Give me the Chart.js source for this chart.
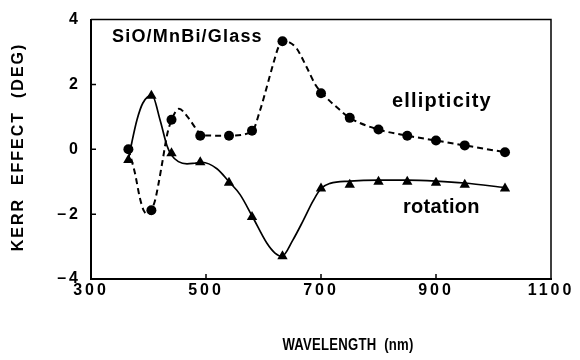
<!DOCTYPE html>
<html>
<head>
<meta charset="utf-8">
<script src="https://cdn.jsdelivr.net/npm/chart.js@4"></script>
<style>
  html, body { margin: 0; padding: 0; background: #fff; }
  #wrap { width: 580px; height: 360px; }
</style>
</head>
<body>
<div id="wrap"><canvas id="kerr"></canvas></div>
<script>
// measured points (nm, deg)
const wavelength = [365, 405, 440, 490, 540, 580, 633, 700, 750, 800, 850, 900, 950, 1020];
const ellipticity = [0, -1.88, 0.91, 0.42, 0.42, 0.57, 3.33, 1.73, 0.97, 0.61, 0.42, 0.27, 0.12, -0.09];
const rotation = [-0.33, 1.65, -0.12, -0.4, -1.03, -2.09, -3.3, -1.21, -1.09, -1.0, -1.0, -1.03, -1.09, -1.21];

// guide curves through the data
const ellipCurveX = [365, 376, 385, 392, 399, 411, 417, 425, 432, 440, 453, 468, 484, 492, 540, 580, 594, 606, 617, 626, 634, 645, 658, 676, 690, 702, 733, 750, 800, 850, 900, 950, 1020];
const ellipCurveY = [0, -0.7, -1.5, -1.9, -2.0, -1.6, -1.1, -0.3, 0.42, 0.9, 1.25, 1.0, 0.6, 0.43, 0.42, 0.55, 1.2, 1.94, 2.64, 3.15, 3.33, 3.3, 3.1, 2.5, 2.0, 1.73, 1.21, 0.97, 0.61, 0.42, 0.27, 0.12, -0.09];
const rotCurveX = [365, 371, 380, 390, 406, 420, 432, 440, 452, 467, 480, 493, 519, 540, 559, 580, 606, 620, 632, 651, 669, 686, 700, 716, 750, 800, 850, 900, 950, 1020];
const rotCurveY = [-0.33, 0.21, 0.91, 1.42, 1.67, 0.91, 0.12, -0.18, -0.38, -0.45, -0.43, -0.4, -0.6, -1.0, -1.39, -2.05, -2.9, -3.2, -3.3, -2.8, -2.2, -1.6, -1.21, -1.05, -0.98, -0.95, -0.95, -0.98, -1.04, -1.18];

const xTicks = [300, 500, 700, 900, 1100];
const yTicks = [-4, -2, 0, 2, 4];

const FONT = '"Liberation Sans", Arial, sans-serif';

const toPoints = (xs, ys) => xs.map((x, i) => ({ x: x, y: ys[i] }));

// frame, inward ticks and the text labels
const decorations = {
    id: 'decorations',
    beforeDraw(chart) {
        chart.ctx.letterSpacing = '3px';
    },
    afterDraw(chart) {
        const { ctx, chartArea: a, scales } = chart;
        ctx.save();
        ctx.strokeStyle = '#000';
        ctx.lineWidth = 1.5;
        ctx.beginPath();
        ctx.moveTo(a.left, a.top);
        ctx.lineTo(a.right, a.top);
        ctx.lineTo(a.right, a.bottom);
        ctx.stroke();

        ctx.beginPath();
        xTicks.slice(1, -1).forEach(v => {
            const px = scales.x.getPixelForValue(v);
            ctx.moveTo(px, a.bottom);
            ctx.lineTo(px, a.bottom - 5);
        });
        yTicks.slice(1, -1).forEach(v => {
            const py = scales.y.getPixelForValue(v);
            ctx.moveTo(a.left, py);
            ctx.lineTo(a.left + 5, py);
        });
        ctx.stroke();

        ctx.fillStyle = '#000';
        ctx.textBaseline = 'alphabetic';
        ctx.textAlign = 'left';

        ctx.font = 'bold 18px ' + FONT;
        ctx.letterSpacing = '1.2px';
        ctx.fillText('SiO/MnBi/Glass', 112, 42);

        ctx.font = 'bold 20px ' + FONT;
        ctx.letterSpacing = '1.2px';
        ctx.fillText('ellipticity', 392, 107);
        ctx.letterSpacing = '0.3px';
        ctx.fillText('rotation', 403, 213);

        // axis titles, slightly condensed
        ctx.textAlign = 'center';
        ctx.textBaseline = 'middle';
        ctx.save();
        ctx.translate(348, 346);
        ctx.scale(0.82, 1);
        ctx.font = 'bold 16px ' + FONT;
        ctx.letterSpacing = '0.3px';
        ctx.fillText('WAVELENGTH  (nm)', 0, 0);
        ctx.restore();

        ctx.translate(19, 147);
        ctx.rotate(-Math.PI / 2);
        ctx.font = 'bold 16px ' + FONT;
        ctx.letterSpacing = '2px';
        ctx.fillText('KERR  EFFECT  (DEG)', 0, 0);
        ctx.restore();
    }
};

new Chart(document.getElementById('kerr'), {
    type: 'scatter',
    data: {
        datasets: [
            {
                label: 'ellipticity',
                data: toPoints(wavelength, ellipticity),
                pointStyle: 'circle',
                pointRadius: 5,
                backgroundColor: '#000',
                borderColor: '#000',
                borderWidth: 0,
                showLine: false,
                order: 0
            },
            {
                label: 'rotation',
                data: toPoints(wavelength, rotation),
                pointStyle: 'triangle',
                pointRadius: 6,
                backgroundColor: '#000',
                borderColor: '#000',
                borderWidth: 0,
                showLine: false,
                order: 0
            },
            {
                label: 'ellipticity fit',
                data: toPoints(ellipCurveX, ellipCurveY),
                showLine: true,
                pointRadius: 0,
                borderColor: '#000',
                borderWidth: 2,
                borderDash: [6, 4],
                cubicInterpolationMode: 'monotone',
                order: 1
            },
            {
                label: 'rotation fit',
                data: toPoints(rotCurveX, rotCurveY),
                showLine: true,
                pointRadius: 0,
                borderColor: '#000',
                borderWidth: 1.7,
                cubicInterpolationMode: 'monotone',
                order: 1
            }
        ]
    },
    options: {
        responsive: true,
        maintainAspectRatio: false,
        animation: false,
        layout: { padding: { top: 15, right: 29, left: 0, bottom: 0 } },
        plugins: {
            legend: { display: false },
            tooltip: { enabled: false }
        },
        scales: {
            x: {
                type: 'linear',
                min: 300,
                max: 1100,
                afterBuildTicks: s => { s.ticks = xTicks.map(v => ({ value: v })); },
                afterFit: s => { s.height = 81; },
                grid: { display: false, drawTicks: false },
                border: { display: true, color: '#000', width: 2 },
                ticks: {
                    color: '#000',
                    padding: 2,
                    maxRotation: 0,
                    font: { family: FONT, size: 16, weight: 'bold' },
                    callback: v => String(v)
                }
            },
            y: {
                type: 'linear',
                min: -4,
                max: 4,
                afterBuildTicks: s => { s.ticks = yTicks.map(v => ({ value: v })); },
                afterFit: s => { s.width = 91; },
                grid: { display: false, drawTicks: false },
                border: { display: true, color: '#000', width: 2 },
                ticks: {
                    color: '#000',
                    padding: 10,
                    font: { family: FONT, size: 16, weight: 'bold' },
                    callback: v => v < 0 ? '\u2013' + Math.abs(v) : String(v)
                }
            }
        }
    },
    plugins: [decorations]
});
</script>
</body>
</html>
